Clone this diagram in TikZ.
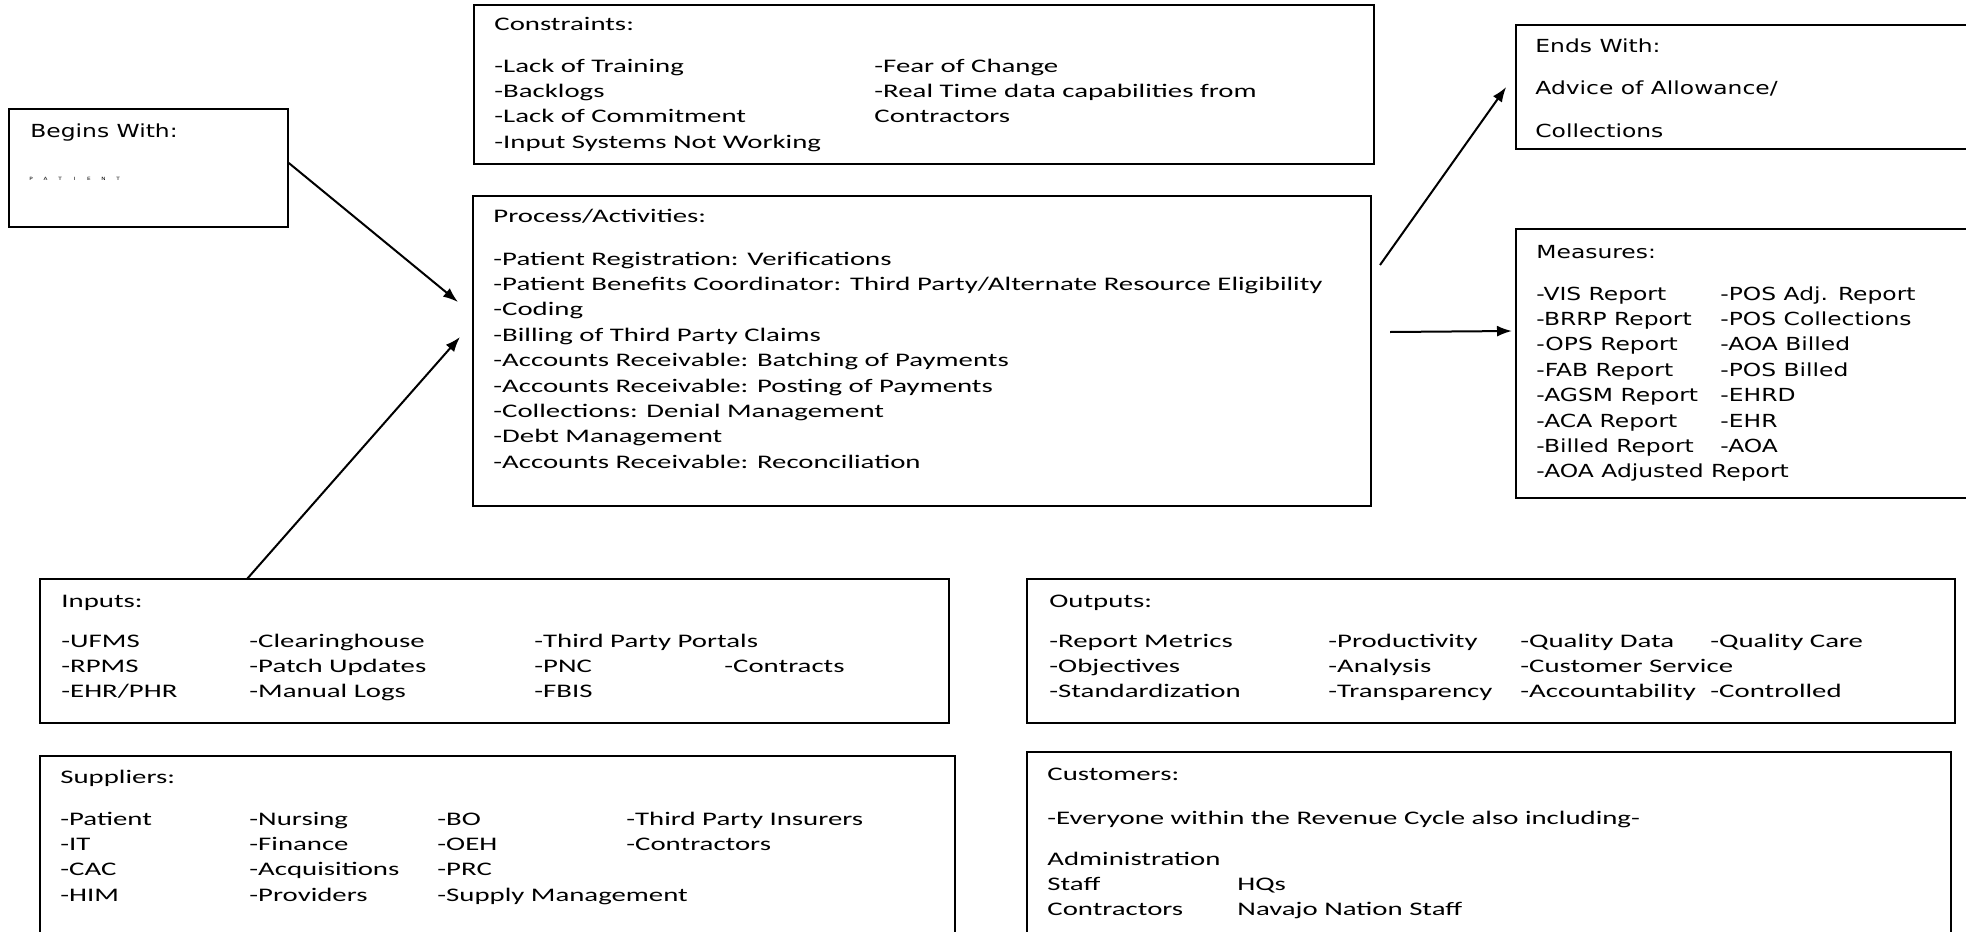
\documentclass[tikz,border=0pt]{standalone}
\usepackage{fontspec}
\usepackage{tikz}
\usetikzlibrary{arrows.meta,fit}
\newfontfamily\calf[FakeStretch=1.5]{Carlito}
\newfontfamily\verf[FakeStretch=1.3]{DejaVu Sans}
\newcommand{\itemcol}[1]{\begin{tabular}[t]{@{}l@{}}#1\end{tabular}}
\tikzset{
  box/.style={draw=black, line width=0.8pt, inner sep=0pt},
  cal/.style={font=\calf\fontsize{9.6}{12.7}\selectfont, inner sep=0pt, anchor=base west},
  ver/.style={font=\verf\fontsize{9}{12.7}\selectfont, inner sep=0pt, anchor=base west},
  arr/.style={draw=black, line width=1pt, -{Latex[length=7.5pt,width=5.5pt]}},
}

\begin{document}
\begin{tikzpicture}[x=0.5pt,y=-0.5pt]
  \useasboundingbox (0,0) rectangle (1966,932);
  \fill[white] (0,0) rectangle (1966,932);
  \clip (0,0) rectangle (1966,932);
  \node[box,fit={(9,109) (288,227)}] (begins) {};
  \node[box,fit={(474,5) (1374,164)}] (constraints) {};
  \node[box,fit={(473,196) (1371,506)}] (process) {};
  \node[box,fit={(1516,25) (1972,149)}] (ends) {};
  \node[box,fit={(1516,229) (1972,498)}] (measures) {};
  \node[box,fit={(40,579) (949,723)}] (inputs) {};
  \node[box,fit={(1027,579) (1955,723)}] (outputs) {};
  \node[box,fit={(40,756) (955,940)}] (suppliers) {};
  \node[box,fit={(1027,752) (1951,940)}] (customers) {};

  \node[ver] (beginsHead) at (30,137) {Begins With:};
  \foreach \L [count=\i] in {P,A,T,I,E,N,T}
    \node[font=\verf\fontsize{2.2}{2.2}\selectfont,inner sep=0pt] (pat\i) at ({31+14.5*(\i-1)},179) {\L};

  \node[cal] (constraintsHead) at (494,30) {Constraints:};
  \node[cal] (constraintsA) at (494,72) {\itemcol{-Lack of Training\\-Backlogs\\-Lack of Commitment\\-Input Systems Not Working}};
  \node[cal] (constraintsB) at (874,72) {\itemcol{-Fear of Change\\-Real Time data capabilities from\\Contractors}};

  \node[cal] (processHead) at (493,222) {Process/Activities:};
  \node[cal] (processList) at (493,265) {\itemcol{-Patient Registration: Verifications\\
    -Patient Benefits Coordinator: Third Party/Alternate Resource Eligibility\\
    -Coding\\-Billing of Third Party Claims\\
    -Accounts Receivable: Batching of Payments\\
    -Accounts Receivable: Posting of Payments\\
    -Collections: Denial Management\\-Debt Management\\
    -Accounts Receivable: Reconciliation}};

  \node[ver,font=\verf\fontsize{9}{21.25}\selectfont] (endsText) at (1535,52) {\itemcol{Ends With:\\Advice of Allowance/\\Collections}};

  \node[ver] (measuresHead) at (1536,258) {Measures:};
  \node[ver] (measuresA) at (1536,300) {\itemcol{-VIS Report\\-BRRP Report\\-OPS Report\\-FAB Report\\-AGSM Report\\-ACA Report\\-Billed Report\\-AOA Adjusted Report}};
  \node[ver] (measuresB) at (1720,300) {\itemcol{-POS Adj. Report\\-POS Collections\\-AOA Billed\\-POS Billed\\-EHRD\\-EHR\\-AOA}};

  \node[cal] (inputsHead) at (61,607) {Inputs:};
  \node[cal] (inputsA) at (61,647) {\itemcol{-UFMS\\-RPMS\\-EHR/PHR}};
  \node[cal] (inputsB) at (249,647) {\itemcol{-Clearinghouse\\-Patch Updates\\-Manual Logs}};
  \node[cal] (inputsC) at (534,647) {\itemcol{-Third Party Portals\\-PNC\\-FBIS}};
  \node[cal] (inputsD) at (724,672) {-Contracts};

  \node[cal] (outputsHead) at (1049,607) {Outputs:};
  \node[cal] (outputsA) at (1049,647) {\itemcol{-Report Metrics\\-Objectives\\-Standardization}};
  \node[cal] (outputsB) at (1328,647) {\itemcol{-Productivity\\-Analysis\\-Transparency}};
  \node[cal] (outputsC) at (1520,647) {\itemcol{-Quality Data\\-Customer Service\\-Accountability}};
  \node[cal] (outputsD) at (1710,647) {\itemcol{-Quality Care\\ \\-Controlled}};

  \node[cal] (suppliersHead) at (60,783) {Suppliers:};
  \node[cal] (suppliersA) at (60,825) {\itemcol{-Patient\\-IT\\-CAC\\-HIM}};
  \node[cal] (suppliersB) at (249,825) {\itemcol{-Nursing\\-Finance\\-Acquisitions\\-Providers}};
  \node[cal] (suppliersC) at (437,825) {\itemcol{-BO\\-OEH\\-PRC\\-Supply Management}};
  \node[cal] (suppliersD) at (626,825) {\itemcol{-Third Party Insurers\\-Contractors}};

  \node[cal] (customersHead) at (1047,780) {Customers:};
  \node[cal] (customersNote) at (1047,824) {-Everyone within the Revenue Cycle also including-};
  \node[cal] (customersA) at (1047,865) {\itemcol{Administration\\Staff\\Contractors}};
  \node[cal] (customersB) at (1237,890) {\itemcol{HQs\\Navajo Nation Staff}};

  \coordinate (a1e) at (458,302);
  \coordinate (a2s) at (247,579);
  \coordinate (a2e) at (460,337);
  \coordinate (a3s) at (1380,265);
  \coordinate (a4s) at (1390,332);
  \coordinate (a4e) at (1512,331);
  \draw[arr] ([yshift=2.5pt]begins.east) -- (a1e);
  \draw[arr] (a2s) -- (a2e);
  \draw[arr] (a3s) -- ([xshift=-4.5pt]ends.west);
  \draw[arr] (a4s) -- (a4e);
\end{tikzpicture}
\end{document}
